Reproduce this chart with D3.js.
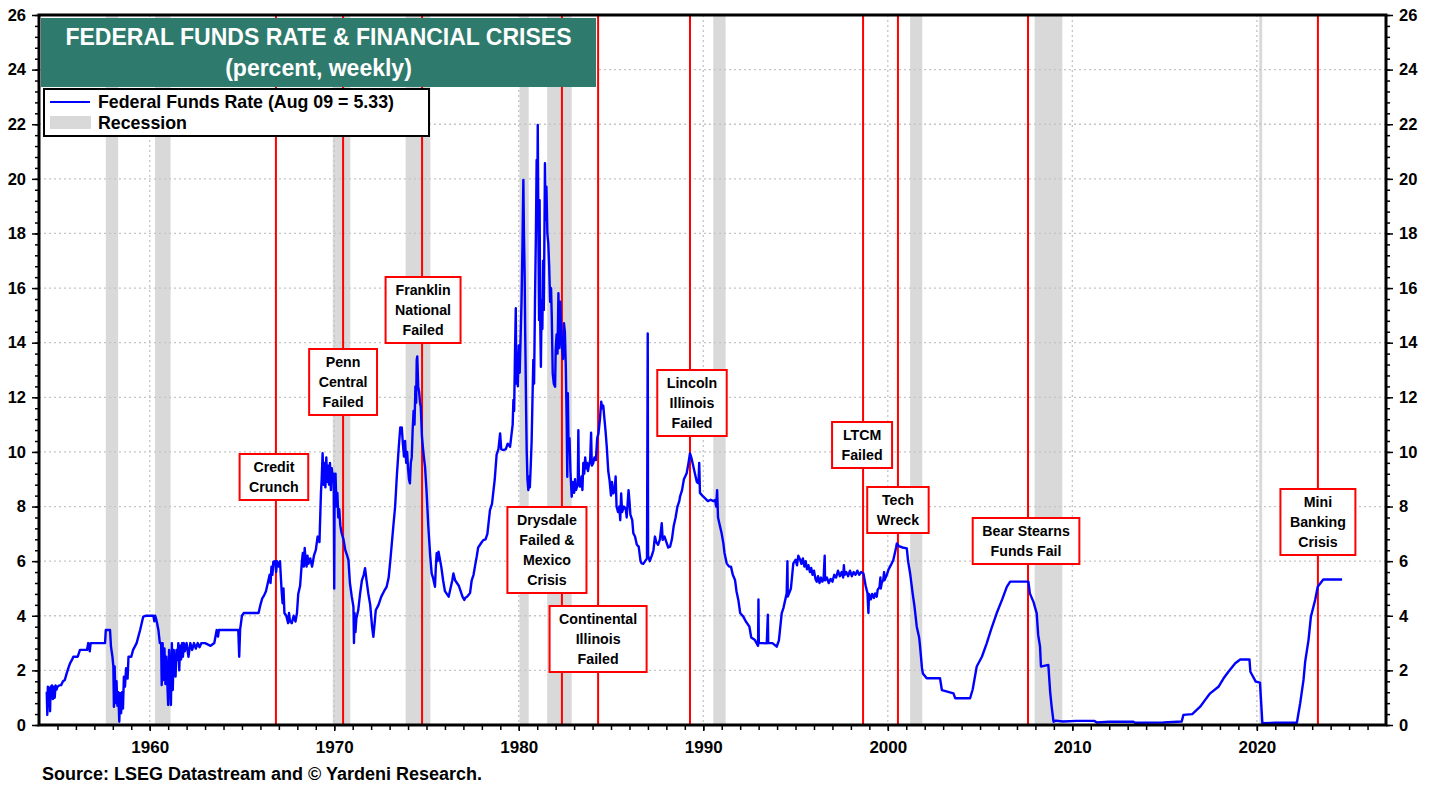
<!DOCTYPE html>
<html>
<head>
<meta charset="utf-8">
<script src="https://cdn.jsdelivr.net/npm/d3@7"></script>
<style>
  body { margin: 0; background: #fff; }
  svg text { font-family: "Liberation Sans", Arial, sans-serif; font-weight: bold; }
</style>
</head>
<body>
<svg id="chart" width="1438" height="785"></svg>
<script>
// weekly federal funds rate: [decimal year, percent]
const fedFunds = [
  [1954.42,1.22],[1954.45,0.37],[1954.48,1.40],[1954.52,0.80],[1954.55,1.35],[1954.60,0.50],[1954.63,1.40],
  [1954.67,1.10],[1954.70,1.45],[1954.75,0.95],[1954.80,1.40],[1954.85,1.00],[1954.90,1.45],[1954.95,1.30],
  [1955.00,1.40],[1955.10,1.45],[1955.20,1.46],[1955.30,1.60],[1955.40,1.65],[1955.50,1.89],[1955.60,2.10],
  [1955.68,2.26],[1955.80,2.40],[1955.86,2.50],[1956.10,2.50],[1956.22,2.75],[1956.60,2.75],[1956.67,3.00],
  [1956.75,2.70],[1956.80,3.00],[1957.00,3.00],[1957.58,3.00],[1957.62,3.48],[1957.85,3.48],[1957.90,2.88],
  [1957.98,2.50],[1958.03,2.14],[1958.06,0.67],[1958.10,2.14],[1958.15,0.80],[1958.20,1.60],[1958.25,0.70],
  [1958.30,1.20],[1958.35,0.12],[1958.40,1.16],[1958.45,0.43],[1958.50,1.20],[1958.55,0.60],[1958.60,1.77],
  [1958.66,1.40],[1958.72,2.08],[1958.80,1.70],[1958.85,2.50],[1959.00,2.50],[1959.10,2.75],[1959.29,3.00],
  [1959.48,3.48],[1959.65,3.97],[1959.80,4.00],[1960.20,4.00],[1960.25,3.80],[1960.30,4.00],[1960.38,3.80],
  [1960.47,3.48],[1960.55,3.00],[1960.62,3.00],[1960.65,1.46],[1960.70,3.00],[1960.75,1.65],[1960.80,2.80],
  [1960.85,1.50],[1960.90,2.50],[1961.00,0.73],[1961.05,2.75],[1961.10,1.89],[1961.15,0.73],[1961.20,3.00],
  [1961.25,1.28],[1961.30,2.75],[1961.35,2.14],[1961.40,1.77],[1961.45,2.75],[1961.50,2.38],[1961.55,3.00],
  [1961.60,2.00],[1961.65,2.90],[1961.70,2.40],[1961.75,3.00],[1961.80,2.50],[1961.85,3.00],[1961.90,2.70],
  [1962.00,3.00],[1962.10,2.50],[1962.20,3.00],[1962.30,2.75],[1962.40,3.00],[1962.50,2.80],[1962.60,3.00],
  [1962.70,2.85],[1962.80,3.00],[1963.00,3.00],[1963.30,2.90],[1963.50,3.00],[1963.63,3.48],[1963.70,3.24],
  [1963.75,3.48],[1964.80,3.48],[1964.85,2.50],[1964.90,3.50],[1965.00,4.00],[1965.10,4.10],[1965.90,4.10],
  [1966.00,4.40],[1966.10,4.64],[1966.20,4.75],[1966.30,4.90],[1966.40,5.20],[1966.50,5.50],[1966.55,5.20],
  [1966.60,5.80],[1966.65,5.50],[1966.70,5.98],[1966.80,6.00],[1966.85,5.60],[1966.90,6.00],[1967.00,5.80],
  [1967.06,6.00],[1967.15,4.90],[1967.20,4.46],[1967.25,5.00],[1967.30,4.10],[1967.40,4.00],[1967.50,3.73],
  [1967.55,4.10],[1967.60,3.80],[1967.70,3.73],[1967.80,4.00],[1967.90,3.79],[1967.98,4.10],[1968.05,4.80],
  [1968.15,5.10],[1968.25,6.00],[1968.30,6.30],[1968.35,5.80],[1968.40,6.48],[1968.45,6.00],[1968.50,5.80],
  [1968.55,6.20],[1968.60,5.90],[1968.70,6.10],[1968.80,5.80],[1968.90,6.20],[1969.00,6.40],[1969.10,6.90],
  [1969.20,6.70],[1969.28,8.50],[1969.32,9.00],[1969.37,9.95],[1969.42,8.80],[1969.47,9.60],[1969.52,8.70],
  [1969.57,9.80],[1969.62,8.90],[1969.67,9.50],[1969.72,8.80],[1969.77,9.60],[1969.82,8.60],[1969.87,9.40],
  [1969.92,8.90],[1969.97,9.20],[1970.00,5.00],[1970.02,8.60],[1970.07,9.20],[1970.12,8.00],[1970.17,8.50],
  [1970.22,7.60],[1970.27,7.90],[1970.33,7.30],[1970.40,7.03],[1970.50,6.80],[1970.60,6.40],[1970.70,6.20],
  [1970.77,6.04],[1970.85,5.20],[1970.95,4.70],[1971.04,4.33],[1971.07,3.00],[1971.10,4.10],[1971.15,3.40],
  [1971.20,3.90],[1971.30,4.20],[1971.40,4.80],[1971.50,5.30],[1971.60,5.50],[1971.67,5.74],[1971.75,5.30],
  [1971.85,4.80],[1971.95,4.40],[1972.05,3.60],[1972.12,3.23],[1972.20,3.80],[1972.25,4.20],[1972.40,4.40],
  [1972.55,4.70],[1972.70,4.90],[1972.84,5.06],[1972.95,5.40],[1973.05,6.10],[1973.20,7.26],[1973.30,8.00],
  [1973.40,9.20],[1973.50,10.20],[1973.58,10.90],[1973.62,10.70],[1973.66,10.90],[1973.72,10.30],[1973.78,9.83],
  [1973.84,10.40],[1973.90,9.60],[1973.95,10.00],[1974.00,9.40],[1974.05,9.00],[1974.10,8.85],[1974.15,9.60],
  [1974.20,9.80],[1974.25,10.80],[1974.30,11.50],[1974.35,11.00],[1974.40,12.40],[1974.44,11.80],[1974.47,13.37],
  [1974.50,13.50],[1974.55,12.40],[1974.60,12.20],[1974.65,11.80],[1974.69,11.65],[1974.75,10.60],[1974.80,10.20],
  [1974.86,9.80],[1974.92,9.46],[1975.00,8.60],[1975.10,7.26],[1975.20,6.20],[1975.28,5.55],[1975.35,5.40],
  [1975.46,5.06],[1975.50,5.70],[1975.55,6.29],[1975.60,6.00],[1975.65,6.35],[1975.72,6.10],[1975.80,5.80],
  [1975.90,5.30],[1976.00,4.90],[1976.10,4.80],[1976.20,4.70],[1976.30,5.00],[1976.40,5.30],[1976.46,5.55],
  [1976.55,5.30],[1976.65,5.20],[1976.75,5.10],[1976.85,4.90],[1976.95,4.70],[1977.05,4.58],[1977.10,4.65],
  [1977.20,4.70],[1977.36,4.83],[1977.45,5.30],[1977.55,5.50],[1977.65,5.90],[1977.72,6.16],[1977.80,6.50],
  [1977.90,6.60],[1978.00,6.70],[1978.08,6.77],[1978.20,6.80],[1978.30,7.00],[1978.44,7.87],[1978.55,8.10],
  [1978.70,9.00],[1978.80,9.90],[1978.90,10.10],[1978.99,10.68],[1979.05,10.10],[1979.17,10.07],[1979.30,10.10],
  [1979.40,10.30],[1979.53,10.19],[1979.60,10.60],[1979.67,11.00],[1979.71,11.90],[1979.75,11.50],[1979.80,13.80],
  [1979.84,15.26],[1979.87,12.50],[1979.90,13.60],[1979.95,12.40],[1980.00,13.90],[1980.05,12.90],[1980.10,14.20],
  [1980.15,15.50],[1980.20,17.50],[1980.25,19.96],[1980.28,18.00],[1980.32,16.50],[1980.35,14.30],[1980.40,11.50],
  [1980.43,10.07],[1980.47,9.00],[1980.52,8.60],[1980.56,9.10],[1980.60,8.70],[1980.65,9.50],[1980.70,10.44],
  [1980.74,11.80],[1980.79,13.37],[1980.83,12.50],[1980.88,15.50],[1980.93,18.00],[1980.97,20.69],[1981.00,18.50],
  [1981.03,21.97],[1981.07,17.50],[1981.10,14.83],[1981.13,19.22],[1981.16,15.00],[1981.20,13.12],[1981.24,15.56],
  [1981.28,14.50],[1981.32,17.00],[1981.36,15.20],[1981.42,20.57],[1981.46,18.50],[1981.50,19.71],[1981.55,18.00],
  [1981.60,17.64],[1981.65,16.78],[1981.70,15.50],[1981.75,16.00],[1981.79,14.95],[1981.84,12.88],[1981.90,12.50],
  [1981.97,12.39],[1982.00,13.73],[1982.05,14.30],[1982.10,13.60],[1982.15,15.81],[1982.20,13.80],[1982.25,15.50],
  [1982.30,14.20],[1982.35,13.80],[1982.40,13.40],[1982.45,14.71],[1982.50,14.40],[1982.55,13.12],[1982.60,11.00],
  [1982.63,9.09],[1982.66,12.15],[1982.70,10.07],[1982.75,10.50],[1982.80,9.30],[1982.87,8.36],[1982.92,8.90],
  [1983.00,8.50],[1983.05,9.00],[1983.10,8.60],[1983.20,8.80],[1983.23,10.80],[1983.26,8.90],[1983.32,8.73],
  [1983.40,9.10],[1983.45,8.60],[1983.50,9.60],[1983.55,9.20],[1983.60,9.80],[1983.65,9.40],[1983.70,9.60],
  [1983.75,9.30],[1983.80,9.50],[1983.87,9.70],[1983.92,10.70],[1983.96,9.50],[1984.04,9.60],[1984.10,9.80],
  [1984.18,9.70],[1984.25,10.50],[1984.32,10.68],[1984.40,11.20],[1984.47,11.84],[1984.52,11.60],[1984.58,11.70],
  [1984.63,11.30],[1984.70,10.80],[1984.77,10.19],[1984.85,9.30],[1984.92,8.97],[1985.00,8.40],[1985.05,8.90],
  [1985.13,8.48],[1985.20,8.60],[1985.25,9.10],[1985.30,8.00],[1985.38,7.80],[1985.45,8.00],[1985.50,7.50],
  [1985.55,8.48],[1985.60,7.80],[1985.70,8.00],[1985.80,7.90],[1985.85,7.60],[1985.90,8.10],[1985.95,8.60],
  [1986.00,8.20],[1986.05,7.70],[1986.15,7.50],[1986.21,7.02],[1986.30,6.90],[1986.40,6.60],[1986.50,6.53],
  [1986.60,6.00],[1986.66,5.92],[1986.75,5.90],[1986.85,6.00],[1986.95,6.10],[1986.99,14.34],[1987.01,6.20],
  [1987.10,6.00],[1987.21,6.20],[1987.30,6.40],[1987.38,6.90],[1987.45,6.70],[1987.55,6.60],[1987.65,6.80],
  [1987.75,7.39],[1987.80,6.78],[1987.90,6.90],[1988.00,6.70],[1988.10,6.50],[1988.20,6.53],[1988.30,6.80],
  [1988.40,7.30],[1988.50,7.60],[1988.60,8.00],[1988.70,8.20],[1988.74,8.36],[1988.85,8.60],[1988.95,9.00],
  [1989.10,9.22],[1989.20,9.60],[1989.28,9.95],[1989.35,9.80],[1989.45,9.50],[1989.55,9.20],[1989.65,8.90],
  [1989.74,8.85],[1989.78,9.60],[1989.82,8.50],[1989.95,8.40],[1990.10,8.30],[1990.25,8.20],[1990.40,8.25],
  [1990.55,8.20],[1990.64,8.24],[1990.70,8.00],[1990.75,8.60],[1990.80,7.60],[1990.90,7.30],[1991.00,7.00],
  [1991.09,6.65],[1991.15,6.30],[1991.27,5.92],[1991.40,5.80],[1991.50,5.80],[1991.60,5.50],[1991.72,5.31],
  [1991.80,4.90],[1991.90,4.58],[1992.00,4.10],[1992.17,3.97],[1992.30,3.80],[1992.50,3.60],[1992.60,3.20],
  [1992.80,3.11],[1992.97,2.90],[1992.99,4.60],[1993.01,3.00],[1993.20,3.00],[1993.44,2.99],[1993.50,4.04],
  [1993.52,3.00],[1993.75,3.00],[1993.98,2.87],[1994.10,3.10],[1994.25,4.09],[1994.35,4.30],[1994.52,4.82],
  [1994.56,6.00],[1994.58,4.70],[1994.75,5.00],[1994.88,5.92],[1995.00,6.05],[1995.08,5.85],[1995.15,6.20],
  [1995.25,6.05],[1995.32,5.90],[1995.40,6.10],[1995.48,5.80],[1995.55,6.00],[1995.62,5.70],[1995.70,5.85],
  [1995.78,5.60],[1995.85,5.75],[1995.92,5.50],[1996.00,5.65],[1996.08,5.35],[1996.15,5.25],[1996.22,5.45],
  [1996.30,5.20],[1996.38,5.40],[1996.45,5.25],[1996.52,5.35],[1996.58,6.20],[1996.60,5.30],[1996.70,5.40],
  [1996.80,5.20],[1996.90,5.35],[1997.00,5.25],[1997.10,5.50],[1997.20,5.40],[1997.30,5.65],[1997.40,5.45],
  [1997.50,5.60],[1997.58,5.40],[1997.62,5.85],[1997.66,5.50],[1997.75,5.60],[1997.85,5.45],[1997.95,5.65],
  [1998.05,5.45],[1998.15,5.60],[1998.25,5.50],[1998.35,5.65],[1998.45,5.50],[1998.55,5.60],[1998.68,5.55],
  [1998.80,5.10],[1998.90,4.82],[1998.95,4.10],[1998.98,4.80],[1999.08,4.60],[1999.15,4.80],[1999.25,4.65],
  [1999.31,4.82],[1999.40,4.70],[1999.45,4.95],[1999.55,5.05],[1999.60,5.40],[1999.62,5.00],[1999.67,5.20],
  [1999.75,5.30],[1999.80,5.60],[1999.82,5.30],[1999.95,5.50],[2000.03,5.68],[2000.20,5.90],[2000.30,6.04],
  [2000.45,6.50],[2000.49,6.65],[2000.60,6.55],[2000.80,6.50],[2001.03,6.47],[2001.10,6.00],[2001.21,5.55],
  [2001.35,4.80],[2001.45,4.33],[2001.57,3.60],[2001.70,3.20],[2001.75,2.87],[2001.85,2.10],[2001.90,1.89],
  [2002.11,1.71],[2002.83,1.71],[2002.93,1.28],[2003.56,1.16],[2003.65,0.98],[2004.46,0.98],[2004.60,1.30],
  [2004.82,2.14],[2005.10,2.50],[2005.36,2.99],[2005.60,3.50],[2005.90,4.09],[2006.20,4.60],[2006.45,5.06],
  [2006.63,5.25],[2007.62,5.25],[2007.70,4.82],[2007.90,4.50],[2008.07,4.09],[2008.15,3.30],[2008.25,2.87],
  [2008.30,2.14],[2008.70,2.20],[2008.80,1.20],[2008.88,0.67],[2008.98,0.12],[2009.10,0.16],[2009.50,0.13],
  [2010.24,0.15],[2011.20,0.15],[2011.33,0.09],[2012.00,0.12],[2013.31,0.12],[2013.40,0.08],[2014.94,0.09],
  [2015.93,0.13],[2016.02,0.37],[2016.50,0.40],[2016.93,0.67],[2017.20,0.92],[2017.47,1.16],[2017.92,1.40],
  [2018.19,1.70],[2018.46,1.95],[2018.83,2.26],[2019.10,2.40],[2019.60,2.40],[2019.65,1.95],[2019.94,1.59],
  [2020.17,1.55],[2020.30,0.07],[2021.00,0.08],[2022.17,0.08],[2022.35,0.80],[2022.53,1.65],[2022.62,2.32],
  [2022.80,3.11],[2022.93,3.97],[2023.16,4.58],[2023.30,5.06],[2023.60,5.33],[2024.62,5.33]
];

// recessions, start and end in decimal years
const recessionStart = [1957.62, 1960.29, 1969.92, 1973.87, 1980.04, 1981.54, 1990.54, 2001.21, 2007.96, 2020.13];
const recessionEnd   = [1958.29, 1961.13, 1970.87, 1975.21, 1980.54, 1982.87, 1991.21, 2001.87, 2009.46, 2020.29];

// financial crises
const crisisYears  = [1966.84, 1970.48, 1974.76, 1982.34, 1984.30, 1989.28, 1998.66, 2000.55, 2007.60, 2023.31];
const crisisLabels = [
  ["Credit", "Crunch"],
  ["Penn", "Central", "Failed"],
  ["Franklin", "National", "Failed"],
  ["Drysdale", "Failed &", "Mexico", "Crisis"],
  ["Continental", "Illinois", "Failed"],
  ["Lincoln", "Illinois", "Failed"],
  ["LTCM", "Failed"],
  ["Tech", "Wreck"],
  ["Bear Stearns", "Funds Fail"],
  ["Mini", "Banking", "Crisis"]
];
// where each label box sits (pixels): shift from its line, top edge
const labelShift = [-2, 0, 1, -15, 0, 2, -1, 0, -2, 0];
const labelTop   = [454, 349, 277, 507, 606, 370, 422, 487, 518, 489];

const yearTicks = [1960, 1970, 1980, 1990, 2000, 2010, 2020];
const rateTicks = [0, 2, 4, 6, 8, 10, 12, 14, 16, 18, 20, 22, 24, 26];

const titleLines = ["FEDERAL FUNDS RATE & FINANCIAL CRISES", "(percent, weekly)"];
const legendLabels = ["Federal Funds Rate (Aug 09 = 5.33)", "Recession"];
const sourceNote = "Source: LSEG Datastream and \u00a9 Yardeni Research.";

const svg = d3.select("#chart");
const plotL = 39, plotR = 1386, plotT = 15, plotB = 725;

const x = d3.scaleLinear().domain([1954, 2027]).range([plotL, plotR]);
const y = d3.scaleLinear().domain([0, 26]).range([plotB, plotT]);

svg.append("rect").attr("width", 1438).attr("height", 785).attr("fill", "#fff");

svg.append("defs").append("clipPath").attr("id", "plot")
  .append("rect").attr("x", plotL).attr("y", plotT).attr("width", plotR - plotL).attr("height", plotB - plotT);

// recession bands
svg.append("g").selectAll("rect")
  .data(recessionStart)
  .enter().append("rect")
  .attr("x", function(d) { return x(d); })
  .attr("y", plotT)
  .attr("width", function(d, i) { return x(recessionEnd[i]) - x(d); })
  .attr("height", plotB - plotT)
  .attr("fill", "#d9d9d9");

// dotted grid
const grid = svg.append("g").attr("stroke", "#c4c4c4").attr("stroke-width", 1.3).attr("stroke-dasharray", "2,3");
grid.selectAll("line.h").data(rateTicks.slice(1, -1)).enter().append("line")
  .attr("x1", plotL).attr("x2", plotR)
  .attr("y1", function(d) { return y(d); }).attr("y2", function(d) { return y(d); });
grid.selectAll("line.v").data(yearTicks).enter().append("line")
  .attr("y1", plotT).attr("y2", plotB)
  .attr("x1", function(d) { return x(d); }).attr("x2", function(d) { return x(d); });

// crisis lines
svg.append("g").selectAll("line")
  .data(crisisYears)
  .enter().append("line")
  .attr("x1", function(d) { return x(d); }).attr("x2", function(d) { return x(d); })
  .attr("y1", plotT).attr("y2", plotB)
  .attr("stroke", "#ff0000").attr("stroke-width", 2);

// fed funds line
const line = d3.line()
  .x(function(d) { return x(d[0]); })
  .y(function(d) { return y(d[1]); });

svg.append("path")
  .datum(fedFunds)
  .attr("clip-path", "url(#plot)")
  .attr("d", line)
  .attr("fill", "none")
  .attr("stroke", "#0000ff")
  .attr("stroke-width", 2.4)
  .attr("stroke-linejoin", "round");

// axes
const minorRates = d3.range(0, 26.01, 0.4);
const minorYears = d3.range(1955, 2027, 1);

function styleAxis(g) {
  g.select(".domain").remove();
  g.selectAll(".tick line").attr("stroke", "#000").attr("stroke-width", 1.5);
  g.selectAll("text").attr("fill", "#000").style("font-size", "16.5px").style("font-weight", "bold");
}

svg.append("g").attr("transform", "translate(" + plotL + ",0)")
  .call(d3.axisLeft(y).tickValues(minorRates).tickSize(4).tickFormat(""))
  .call(styleAxis);
svg.append("g").attr("transform", "translate(" + plotL + ",0)")
  .call(d3.axisLeft(y).tickValues(rateTicks).tickSize(7).tickPadding(6).tickFormat(d3.format("d")))
  .call(styleAxis);
svg.append("g").attr("transform", "translate(" + plotR + ",0)")
  .call(d3.axisRight(y).tickValues(minorRates).tickSize(4).tickFormat(""))
  .call(styleAxis);
svg.append("g").attr("transform", "translate(" + plotR + ",0)")
  .call(d3.axisRight(y).tickValues(rateTicks).tickSize(7).tickPadding(6).tickFormat(d3.format("d")))
  .call(styleAxis);
svg.append("g").attr("transform", "translate(0," + plotB + ")")
  .call(d3.axisBottom(x).tickValues(minorYears).tickSize(5).tickFormat(""))
  .call(styleAxis);
svg.append("g").attr("transform", "translate(0," + plotB + ")")
  .call(d3.axisBottom(x).tickValues(yearTicks).tickSize(6).tickPadding(10).tickFormat(d3.format("d")))
  .call(styleAxis)
  .selectAll("text").style("font-size", "17px");

// frame
svg.append("rect")
  .attr("x", plotL).attr("y", plotT)
  .attr("width", plotR - plotL).attr("height", plotB - plotT)
  .attr("fill", "none").attr("stroke", "#000").attr("stroke-width", 3);

// title box
svg.append("rect").attr("x", 41).attr("y", 18).attr("width", 555).attr("height", 69).attr("fill", "#2e7b6d");
svg.append("g").selectAll("text")
  .data(titleLines)
  .enter().append("text")
  .attr("x", 318.5)
  .attr("y", function(d, i) { return 45 + i * 31; })
  .attr("text-anchor", "middle")
  .attr("fill", "#fff")
  .style("font-size", "23px")
  .text(function(d) { return d; });

// legend
svg.append("rect").attr("x", 44).attr("y", 89).attr("width", 385).attr("height", 47)
  .attr("fill", "#fff").attr("stroke", "#000").attr("stroke-width", 2);
svg.append("line").attr("x1", 50).attr("x2", 90).attr("y1", 102).attr("y2", 102)
  .attr("stroke", "#0000ff").attr("stroke-width", 2);
svg.append("rect").attr("x", 50).attr("y", 116).attr("width", 41).attr("height", 13).attr("fill", "#d9d9d9");
svg.append("g").selectAll("text")
  .data(legendLabels)
  .enter().append("text")
  .attr("x", 98)
  .attr("y", function(d, i) { return 108 + i * 21; })
  .attr("fill", "#000")
  .style("font-size", "17.8px")
  .text(function(d) { return d; });

// crisis label boxes
const labels = svg.append("g").selectAll("g")
  .data(crisisLabels)
  .enter().append("g");

labels.each(function(lines, i) {
  const g = d3.select(this);
  const cx = x(crisisYears[i]) + labelShift[i];
  const t = g.append("text")
    .attr("text-anchor", "middle")
    .attr("fill", "#000")
    .style("font-size", "14.2px");
  t.selectAll("tspan").data(lines).enter().append("tspan")
    .attr("x", cx)
    .attr("y", function(d, j) { return labelTop[i] + 18 + j * 20; })
    .text(function(d) { return d; });
  const w = t.node().getBBox().width + 19;
  g.insert("rect", "text")
    .attr("x", cx - w / 2)
    .attr("y", labelTop[i])
    .attr("width", w)
    .attr("height", lines.length * 20 + 6)
    .attr("fill", "#fff")
    .attr("stroke", "#ff0000")
    .attr("stroke-width", 2);
});

// source
svg.append("text")
  .attr("x", 42).attr("y", 780)
  .attr("fill", "#000")
  .style("font-size", "18px")
  .text(sourceNote);
</script>
</body>
</html>
